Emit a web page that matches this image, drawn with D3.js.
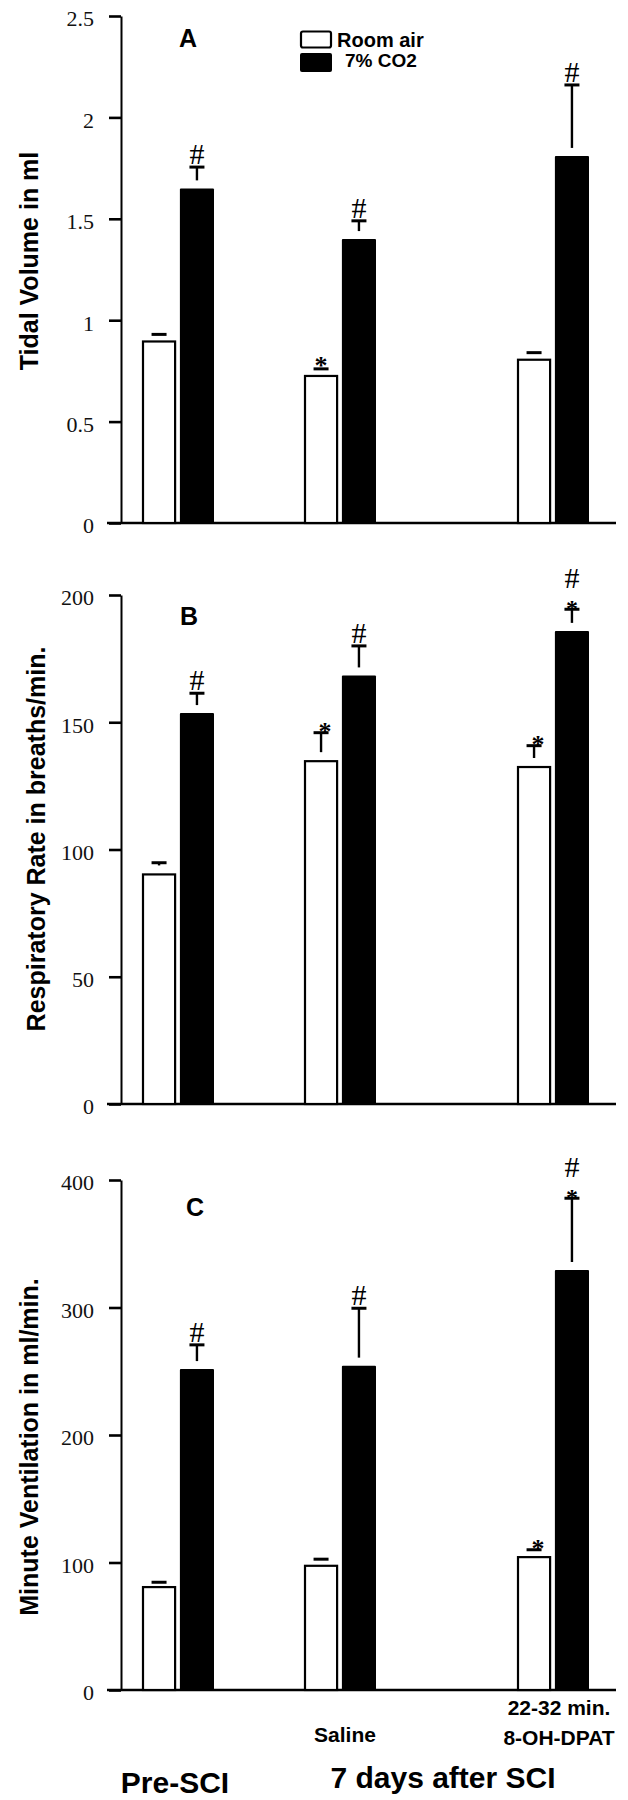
<!DOCTYPE html>
<html>
<head>
<meta charset="utf-8">
<script src="https://cdn.jsdelivr.net/npm/d3@7"></script>
<style>
  html, body { margin: 0; padding: 0; background: #fff; }
  svg { display: block; }
</style>
</head>
<body>
<svg id="chart" width="628" height="1800"></svg>
<script>
// ---------------- data ----------------
const groups = ["Pre-SCI", "Saline", "8-OH-DPAT"];
const series = ["Room air", "7% CO2"];

// Panel A: Tidal volume (ml)
const tidalRoom     = [0.90, 0.73, 0.81];
const tidalRoomErr  = [0.03, 0.03, 0.03];
const tidalCO2      = [1.65, 1.40, 1.81];
const tidalCO2Err   = [0.105, 0.09, 0.35];
const tidalRoomMarks = ["", "*", ""];
const tidalCO2Marks  = ["#", "#", "#"];
const tidalTicks      = [0, 0.5, 1, 1.5, 2, 2.5];
const tidalTickLabels = ["0", "0.5", "1", "1.5", "2", "2.5"];

// Panel B: Respiratory rate (breaths/min)
const rateRoom     = [90.6, 135.1, 132.8];
const rateRoomErr  = [4.2, 10.8, 8.0];
const rateCO2      = [153.6, 168.4, 185.9];
const rateCO2Err   = [7.8, 11.6, 8.5];
const rateRoomMarks = ["", "*", "*"];
const rateCO2Marks  = ["#", "#", "*#"];
const rateTicks      = [0, 50, 100, 150, 200];
const rateTickLabels = ["0", "50", "100", "150", "200"];

// Panel C: Minute ventilation (ml/min)
const ventRoom     = [81.5, 98.2, 105.0];
const ventRoomErr  = [3.0, 4.4, 5.0];
const ventCO2      = [251.7, 254.4, 329.4];
const ventCO2Err   = [19.0, 45.0, 56.3];
const ventRoomMarks = ["", "", "*"];
const ventCO2Marks  = ["#", "#", "*#"];
const ventTicks      = [0, 100, 200, 300, 400];
const ventTickLabels = ["0", "100", "200", "300", "400"];

// category labels under the bottom panel
const groupLabels  = [[], ["Saline"], ["22-32 min.", "8-OH-DPAT"]];
const periodLabels = ["Pre-SCI", "7 days after SCI"];

// ---------------- layout ----------------
const SANS = "'Liberation Sans', Arial, Helvetica, sans-serif";
const SERIF = "'Liberation Serif', 'Times New Roman', Times, serif";
const axisX = 121;
const xAxisLeft = 107, xAxisRight = 616;

const panels = [
  { letter: "A", title: "Tidal Volume in ml", room: tidalRoom, roomErr: tidalRoomErr,
    co2: tidalCO2, co2Err: tidalCO2Err, roomMarks: tidalRoomMarks, co2Marks: tidalCO2Marks,
    ticks: tidalTicks, tickLabels: tidalTickLabels, domain: [0, 2.5],
    top: 16, bottom: 523, titleX: 38, titleY: 261, letterX: 188, letterY: 47, legend: true },
  { letter: "B", title: "Respiratory Rate in breaths/min.", room: rateRoom, roomErr: rateRoomErr,
    co2: rateCO2, co2Err: rateCO2Err, roomMarks: rateRoomMarks, co2Marks: rateCO2Marks,
    ticks: rateTicks, tickLabels: rateTickLabels, domain: [0, 200],
    top: 595, bottom: 1104, titleX: 45, titleY: 839, letterX: 189, letterY: 625, legend: false },
  { letter: "C", title: "Minute Ventilation in ml/min.", room: ventRoom, roomErr: ventRoomErr,
    co2: ventCO2, co2Err: ventCO2Err, roomMarks: ventRoomMarks, co2Marks: ventCO2Marks,
    ticks: ventTicks, tickLabels: ventTickLabels, domain: [0, 400],
    top: 1180, bottom: 1690, titleX: 38, titleY: 1447, letterX: 195, letterY: 1216, legend: false }
];

const svg = d3.select("#chart");

// group centres (uneven spacing as in the original figure)
const xGroup = d3.scaleOrdinal().domain(groups).range([178, 340, 553]);
const xSub = d3.scaleBand().domain(series).range([-36, 36]).paddingInner(0.1);

panels.forEach(p => {
  const g = svg.append("g");
  const y = d3.scaleLinear().domain(p.domain).range([p.bottom, p.top]);

  // y axis
  const axis = d3.axisLeft(y)
    .tickValues(p.ticks)
    .tickFormat((d, i) => p.tickLabels[i])
    .tickSize(12)
    .tickSizeOuter(0)
    .tickPadding(15);
  const ag = g.append("g").attr("transform", `translate(${axisX},0)`).call(axis);
  ag.select(".domain").attr("stroke", "#000").attr("stroke-width", 2);
  ag.selectAll(".tick line").attr("stroke", "#000").attr("stroke-width", 2.6);
  ag.selectAll(".tick text")
    .attr("font-family", SERIF)
    .attr("font-size", 22)
    .attr("fill", "#111")
    .attr("dy", "0.45em");

  // x axis baseline
  g.append("line")
    .attr("x1", xAxisLeft).attr("x2", xAxisRight)
    .attr("y1", y(0)).attr("y2", y(0))
    .attr("stroke", "#000").attr("stroke-width", 2.4);

  // bars
  const rows = [];
  groups.forEach((grp, i) => {
    rows.push({ grp, s: series[0], v: p.room[i], e: p.roomErr[i], m: p.roomMarks[i] });
    rows.push({ grp, s: series[1], v: p.co2[i], e: p.co2Err[i], m: p.co2Marks[i] });
  });

  rows.forEach(r => {
    const x0 = xGroup(r.grp) + xSub(r.s);
    const w = xSub.bandwidth();
    const cx = x0 + w / 2;
    const top = y(r.v), base = y(0);
    if (r.s === series[0]) {
      g.append("rect")
        .attr("x", x0 + 1).attr("y", top + 1)
        .attr("width", w - 2).attr("height", base - top - 1)
        .attr("fill", "#fff").attr("stroke", "#000").attr("stroke-width", 2.2);
    } else {
      g.append("rect")
        .attr("x", x0).attr("y", top)
        .attr("width", w).attr("height", base - top)
        .attr("rx", 1)
        .attr("fill", "#000");
    }
    // error bar (upper SEM only)
    const capY = y(r.v + r.e);
    const stemEnd = top - 8;
    if (stemEnd > capY + 1) {
      g.append("line")
        .attr("x1", cx).attr("x2", cx)
        .attr("y1", capY).attr("y2", stemEnd)
        .attr("stroke", "#000").attr("stroke-width", 2.4);
    }
    g.append("line")
      .attr("x1", cx - 7.5).attr("x2", cx + 7.5)
      .attr("y1", capY).attr("y2", capY)
      .attr("stroke", "#000").attr("stroke-width", 3);

    // significance marks
    if (!r.m) return;
    const hasStar = r.m.includes("*");
    const hasHash = r.m.includes("#");
    const starDx = (r.s === series[0] && p.letter !== "A") ? 4 : 0;
    if (hasHash) {
      g.append("text")
        .attr("text-anchor", "middle")
        .attr("font-family", SERIF)
        .attr("x", cx).attr("y", hasStar ? capY - 21 : capY - 3)
        .attr("font-size", 30)
        .text("#");
    }
    if (hasStar) {
      g.append("text")
        .attr("text-anchor", "middle")
        .attr("font-family", SERIF)
        .attr("x", cx + starDx)
        .attr("y", hasHash ? capY + 7 : (p.letter === "A" ? capY + 5 : capY + 7))
        .attr("font-size", hasHash ? 24 : 26).attr("font-weight", "bold")
        .text("*");
    }
  });

  // panel letter
  g.append("text")
    .attr("x", p.letterX).attr("y", p.letterY)
    .attr("text-anchor", "middle")
    .attr("font-family", SANS).attr("font-weight", "bold")
    .attr("font-size", 25)
    .text(p.letter);

  // y title
  g.append("text")
    .attr("transform", `translate(${p.titleX},${p.titleY}) rotate(-90)`)
    .attr("text-anchor", "middle")
    .attr("font-family", SANS).attr("font-weight", "bold")
    .attr("font-size", 25)
    .text(p.title);

  // legend
  if (p.legend) {
    const lg = g.append("g");
    lg.append("rect").attr("x", 301).attr("y", 31.5).attr("width", 30).attr("height", 16)
      .attr("rx", 2).attr("fill", "#fff").attr("stroke", "#000").attr("stroke-width", 2.2);
    lg.append("rect").attr("x", 300).attr("y", 53).attr("width", 32).attr("height", 19)
      .attr("rx", 2).attr("fill", "#000");
    lg.append("text").attr("x", 337).attr("y", 47)
      .attr("font-family", SANS).attr("font-weight", "bold").attr("font-size", 20)
      .text(series[0]);
    lg.append("text").attr("x", 345).attr("y", 67)
      .attr("font-family", SANS).attr("font-weight", "bold").attr("font-size", 19)
      .text(series[1]);
  }
});

// category labels under bottom panel
const labelOffsets = [0, 5, 6];
groupLabels.forEach((lines, i) => {
  const n = lines.length;
  lines.forEach((t, j) => {
    svg.append("text")
      .attr("x", xGroup(groups[i]) + labelOffsets[i])
      .attr("y", n === 1 ? 1742 : 1715 + j * 30)
      .attr("text-anchor", "middle")
      .attr("font-family", SANS).attr("font-weight", "bold")
      .attr("font-size", 21)
      .text(t);
  });
});

svg.append("text")
  .attr("x", 175).attr("y", 1793)
  .attr("text-anchor", "middle")
  .attr("font-family", SANS).attr("font-weight", "bold").attr("font-size", 30)
  .text(periodLabels[0]);
svg.append("text")
  .attr("x", 443).attr("y", 1788)
  .attr("text-anchor", "middle")
  .attr("font-family", SANS).attr("font-weight", "bold").attr("font-size", 30)
  .text(periodLabels[1]);
</script>
</body>
</html>
